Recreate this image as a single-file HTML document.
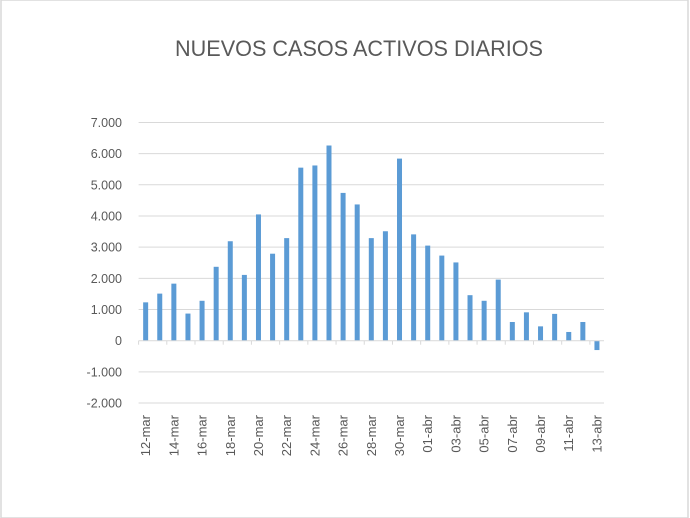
<!DOCTYPE html>
<html><head><meta charset="utf-8"><style>
body{margin:0;background:#fff;}
svg{display:block;font-family:"Liberation Sans",sans-serif;}
</style></head><body>
<svg id="chart" width="690" height="518">
<rect x="1" y="0" width="687" height="518" fill="#fff" stroke="#d9d9d9" stroke-width="1.5"/>
<text x="359" y="56" text-anchor="middle" font-size="22" fill="#595959" textLength="368" lengthAdjust="spacingAndGlyphs">NUEVOS CASOS ACTIVOS DIARIOS</text>
<g id="grid"></g><g id="bars"></g><g id="axis"></g>
</svg>
<script>
const categories=["12-mar","13-mar","14-mar","15-mar","16-mar","17-mar","18-mar","19-mar","20-mar","21-mar","22-mar","23-mar","24-mar","25-mar","26-mar","27-mar","28-mar","29-mar","30-mar","31-mar","01-abr","02-abr","03-abr","04-abr","05-abr","06-abr","07-abr","08-abr","09-abr","10-abr","11-abr","12-abr","13-abr"];
const values=[1230,1510,1830,870,1280,2370,3190,2110,4050,2790,3290,5550,5620,6260,4740,4370,3290,3510,5840,3410,3050,2730,2510,1460,1280,1960,600,910,460,860,280,600,-300];
const yTicks=[-2000,-1000,0,1000,2000,3000,4000,5000,6000,7000];
const yTickLabels=["-2.000","-1.000","0","1.000","2.000","3.000","4.000","5.000","6.000","7.000"];
const NS="http://www.w3.org/2000/svg";
const left=138.6,right=604,catW=(right-left)/categories.length;
function y(v){return 340.7-v*0.03118;}
function x(i){return left+catW*(i+0.5);}
function mk(t,a,p){const e=document.createElementNS(NS,t);for(const k in a)e.setAttribute(k,a[k]);p.appendChild(e);return e;}
const g=document.getElementById('grid'),b=document.getElementById('bars'),ax=document.getElementById('axis');
yTicks.forEach((t,i)=>{
 if(t!==0){const l=mk('line',{x1:left,x2:right,y1:y(t),y2:y(t),stroke:'#d9d9d9','stroke-width':1},g);
 
 }
 const tx=mk('text',{x:122,y:y(t)+4.5,'text-anchor':'end','font-size':12.5,fill:'#595959'},ax);
 tx.textContent=yTickLabels[i];
 
 
});
values.forEach((v,i)=>{
 const r=mk('rect',{x:x(i)-2.5,width:5,y:Math.min(y(v),y(0)),height:Math.abs(y(v)-y(0)),fill:'#5b9bd5'},b);
 
 
});
const base=mk('line',{x1:left,x2:right,y1:y(0),y2:y(0),stroke:'#d9d9d9','stroke-width':1},ax);


categories.forEach((c,i)=>{
 if(i%2===0){
  const tk=mk('line',{x1:left+catW*i,x2:left+catW*i,y1:y(0),y2:y(0)+4,stroke:'#d9d9d9'},ax);
  
  
  const t=mk('text',{x:0,y:0,'text-anchor':'end','font-size':13,fill:'#595959',transform:`translate(${x(i)+4.5},415) rotate(-90)`},ax);
  t.textContent=c;
  
  
 }
});
</script>
</body></html>
